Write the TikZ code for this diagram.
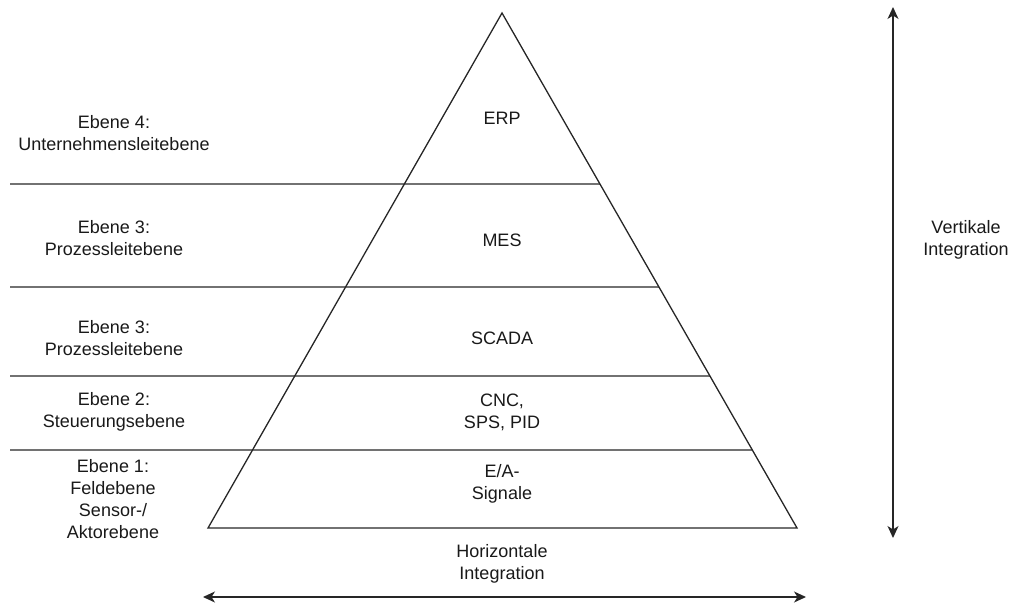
\documentclass[tikz,border=0pt]{standalone}
\usepackage{fontspec}
\setmainfont{Liberation Sans}
\usetikzlibrary{arrows.meta,calc}
\begin{document}
\begin{tikzpicture}[x=1pt,y=-1pt,
  edge/.style={line width=1.3pt,draw=black!85},
  txt/.style={align=center,inner sep=0pt,font=\fontsize{18}{22}\selectfont,text=black!90},
  biarrow/.style={edge,{Stealth[length=12pt,width=11pt,inset=3.5pt]}-{Stealth[length=12pt,width=11pt,inset=3.5pt]}}]
\useasboundingbox (0,0) rectangle (1011,602);

% pyramid outline
\coordinate (apex) at (502,13);
\coordinate (bl) at (208,528);
\coordinate (br) at (797,528);
\draw[edge,line join=miter] (apex) -- (bl) -- (br) -- cycle;

% level separators, from the left margin to the right flank
\foreach \yy/\nm in {184/s4,287/s3,376/s2,450/s1}{
  \coordinate (\nm-l) at (10,\yy);
  \coordinate (\nm-r) at ($(apex)!{(\yy-13)/515}!(br)$);
  \draw[edge] (\nm-l) -- (\nm-r);
}

% contents of the pyramid levels
\node[txt] (erp) at (502,118) {ERP};
\node[txt] (mes) at (502,240) {MES};
\node[txt] (scada) at (502,338) {SCADA};
\node[txt] (cnc) at (502,412) {CNC,\\SPS, PID};
\node[txt] (ea) at (502,484) {E/A-\\Signale};

% level names
\node[txt] (l4) at (114,133) {Ebene 4:\\Unternehmensleitebene};
\node[txt] (l3a) at (114,238) {Ebene 3:\\Prozessleitebene};
\node[txt] (l3b) at (114,338) {Ebene 3:\\Prozessleitebene};
\node[txt] (l2) at (114,412) {Ebene 2:\\Steuerungsebene};
\node[txt] (l1) at (113,499) {Ebene 1:\\Feldebene\\Sensor-/\\Aktorebene};

% integration axes
\node[txt] (hi) at (502,564) {Horizontale\\Integration};
\coordinate (h-l) at (203,597);
\coordinate (h-r) at (806,597);
\draw[biarrow] (h-l) -- (h-r);

\node[txt] (vi) at (966,240) {Vertikale\\Integration};
\coordinate (v-t) at (893,7);
\coordinate (v-b) at (893,538);
\draw[biarrow] (v-t) -- (v-b);
\end{tikzpicture}
\end{document}
